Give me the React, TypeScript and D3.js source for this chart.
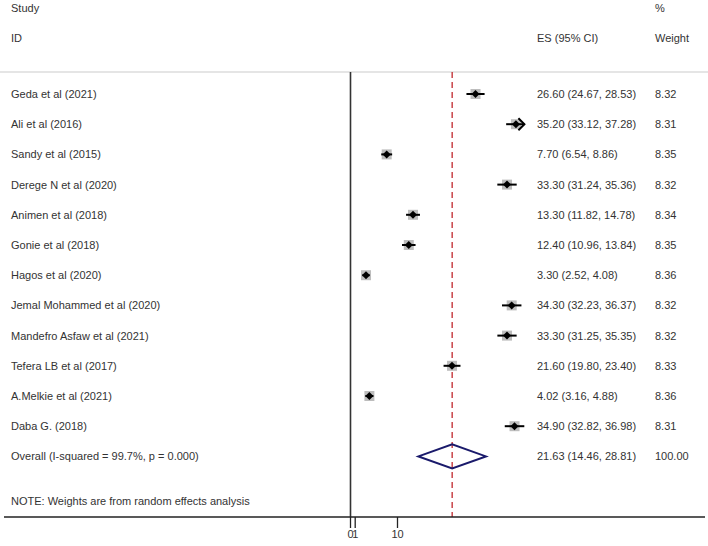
import React from "react";
import * as d3 from "d3";

const studies = [
  "Geda et al (2021)",
  "Ali et al (2016)",
  "Sandy et al (2015)",
  "Derege N et al (2020)",
  "Animen et al (2018)",
  "Gonie et al (2018)",
  "Hagos et al (2020)",
  "Jemal Mohammed et al (2020)",
  "Mandefro Asfaw et al (2021)",
  "Tefera LB et al (2017)",
  "A.Melkie et al (2021)",
  "Daba G. (2018)",
];
const es = [26.6, 35.2, 7.7, 33.3, 13.3, 12.4, 3.3, 34.3, 33.3, 21.6, 4.02, 34.9];
const lower = [24.67, 33.12, 6.54, 31.24, 11.82, 10.96, 2.52, 32.23, 31.25, 19.8, 3.16, 32.82];
const upper = [28.53, 37.28, 8.86, 35.36, 14.78, 13.84, 4.08, 36.37, 35.35, 23.4, 4.88, 36.98];
const weights = ["8.32", "8.31", "8.35", "8.32", "8.34", "8.35", "8.36", "8.32", "8.32", "8.33", "8.36", "8.31"];
const overall = { es: 21.63, lo: 14.46, hi: 28.81, weight: "100.00", label: "Overall  (I-squared = 99.7%, p = 0.000)" };
const tickValues = [0, 1, 10];

const W = 708;
const H = 546;
const fmt = d3.format(".2f");

export default function App() {
  const x = d3.scaleLinear().domain([0, 37]).range([350.5, 524.4]);
  const xMax = 37;
  const y = d3.scaleLinear().domain([0, 12]).range([94, 456.4]);
  const overallY = y(studies.length);
  const top = 72;
  const axisY = 517;
  const font = "'Liberation Sans', Arial, sans-serif";
  const txt = "#333";
  const colL = 11;
  const colES = 537;
  const colW = 655;

  return (
    <svg width={W} height={H} style={{ position: "absolute", left: 0, top: 0, background: "#fff" }} fontFamily={font} fontSize={11}>
      {/* headers */}
      <text x={colL} y={12} fill={txt}>Study</text>
      <text x={colL} y={42} fill={txt}>ID</text>
      <text x={colES} y={42} fill={txt}>ES (95% CI)</text>
      <text x={colW} y={12} fill={txt}>%</text>
      <text x={colW} y={42} fill={txt}>Weight</text>
      <line x1={0} x2={W} y1={top} y2={top} stroke="#ccc" strokeWidth={1.2} />

      {/* null line */}
      <line x1={x(0)} x2={x(0)} y1={top} y2={axisY} stroke="#333" strokeWidth={1.6} />
      {/* overall line */}
      <line x1={x(overall.es)} x2={x(overall.es)} y1={top} y2={axisY} stroke="#c0282d" strokeWidth={1.3} strokeDasharray="6,4" />

      {studies.map((s, i) => {
        const yy = y(i);
        const hi = Math.min(upper[i], xMax);
        const clipped = upper[i] > xMax;
        return (
          <g key={s}>
            <text x={colL} y={yy + 4} fill={txt}>{s}</text>
            <rect x={x(es[i]) - 5} y={yy - 5} width={10} height={10} fill="#bdbdbd" />
            <line x1={x(lower[i])} x2={x(hi)} y1={yy} y2={yy} stroke="#000" strokeWidth={2} />
            {clipped && (
              <path d={`M${x(hi) - 6},${yy - 6} L${x(hi)},${yy} L${x(hi) - 6},${yy + 6}`} fill="none" stroke="#000" strokeWidth={2} />
            )}
            <path d={`M${x(es[i])},${yy - 4} L${x(es[i]) + 4},${yy} L${x(es[i])},${yy + 4} L${x(es[i]) - 4},${yy} Z`} fill="#000" />
            <text x={colES} y={yy + 4} fill={txt}>{`${fmt(es[i])} (${fmt(lower[i])}, ${fmt(upper[i])})`}</text>
            <text x={colW} y={yy + 4} fill={txt}>{weights[i]}</text>
          </g>
        );
      })}

      {/* overall */}
      <text x={colL} y={overallY + 4} fill={txt}>{overall.label}</text>
      <path
        d={`M${x(overall.lo)},${overallY} L${x(overall.es)},${overallY - 12} L${x(overall.hi)},${overallY} L${x(overall.es)},${overallY + 12} Z`}
        fill="none" stroke="#1a1a6b" strokeWidth={2}
      />
      <text x={colES} y={overallY + 4} fill={txt}>{`${fmt(overall.es)} (${fmt(overall.lo)}, ${fmt(overall.hi)})`}</text>
      <text x={colW} y={overallY + 4} fill={txt}>{overall.weight}</text>

      <text x={colL} y={505} fill={txt}>NOTE: Weights are from random effects analysis</text>

      {/* axis */}
      <line x1={4} x2={705} y1={axisY} y2={axisY} stroke="#222" strokeWidth={1.3} />
      {tickValues.map((t) => (
        <g key={t}>
          <line x1={x(t)} x2={x(t)} y1={axisY} y2={axisY + 11} stroke="#222" strokeWidth={1.3} />
          <text x={x(t)} y={axisY + 21} textAnchor="middle" fill={txt}>{t}</text>
        </g>
      ))}
    </svg>
  );
}
